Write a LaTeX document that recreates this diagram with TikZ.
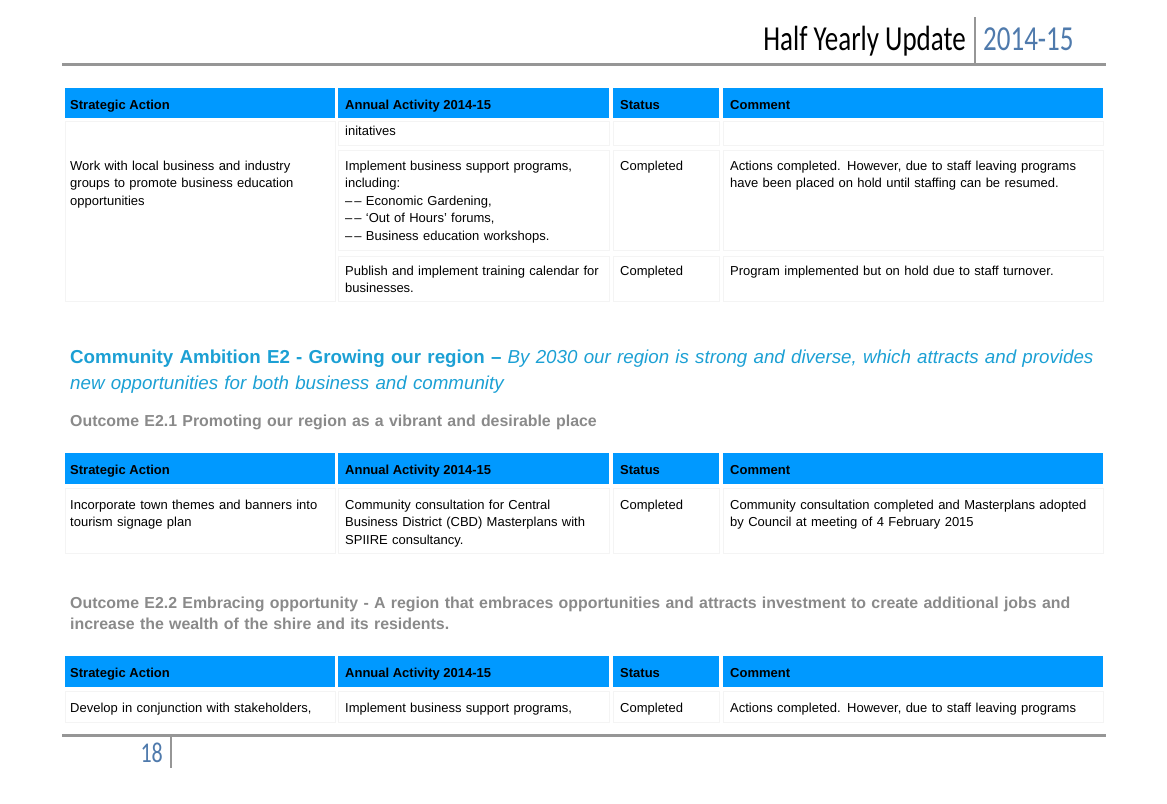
\documentclass[tikz,border=0pt]{standalone}
\usepackage{fontspec}
\usepackage{graphicx}
\setmainfont{Liberation Sans}
\newfontfamily\hdrfont{Carlito}
\definecolor{barblue}{RGB}{0,153,255}
\definecolor{headblue}{RGB}{28,160,212}
\definecolor{outgray}{RGB}{138,138,138}
\definecolor{rulegray}{RGB}{150,150,150}
\definecolor{yearblue}{RGB}{79,122,172}
\definecolor{cellgray}{RGB}{244,244,244}
\begin{document}
\begin{tikzpicture}[x=1pt,y=-1pt,
    headtxt/.style={anchor=base west,inner sep=0,font=\bfseries\fontsize{13}{16}\selectfont},
    bodytxt/.style={anchor=base west,inner sep=0,align=left,text width=#1,font=\fontsize{13}{17.5}\selectfont},
    bodytxt/.default=380pt,
    outtxt/.style={anchor=base west,inner sep=0,align=left,text width=1060pt,text=outgray,font=\bfseries\fontsize{15.9}{21}\selectfont},
    cellbox/.style={draw=cellgray,line width=0.8pt},
    pagerule/.style={draw=rulegray,line width=3pt}]
    \useasboundingbox (0,0) rectangle (1167,803);

    % page header
    \node[anchor=base east,inner sep=0,font=\hdrfont\fontsize{27}{30}\selectfont] (title) at (966,50) {\scalebox{1}[1.3]{Half Yearly Update}};
    \node[anchor=base west,inner sep=0,font=\hdrfont\fontsize{27}{30}\selectfont,text=yearblue] (year) at (983,50) {\scalebox{1}[1.3]{2014-15}};
    \draw[rulegray,line width=2pt] (975,17) -- (975,64);
    \draw[pagerule] (62,64) -- (1106,64);

    % first table (continued)
    \fill[barblue] (65,88) rectangle (335,118);
    \fill[barblue] (338,88) rectangle (609,118);
    \fill[barblue] (613,88) rectangle (719,118);
    \fill[barblue] (723,88) rectangle (1103,118);
    \node[headtxt] (ha1) at (70,109) {Strategic Action};
    \node[headtxt] (hb1) at (345,109) {Annual Activity 2014-15};
    \node[headtxt] (hc1) at (620,109) {Status};
    \node[headtxt] (hd1) at (730,109) {Comment};

    \draw[cellbox] (65,121) rectangle (335,301);
    \draw[cellbox] (338,121) rectangle (609,145);
    \draw[cellbox] (613,121) rectangle (719,145);
    \draw[cellbox] (723,121) rectangle (1103,145);
    \node[bodytxt=260pt] (cont) at (345,135) {initatives};

    \draw[cellbox] (338,150) rectangle (609,250);
    \draw[cellbox] (613,150) rectangle (719,250);
    \draw[cellbox] (723,150) rectangle (1103,250);
    \node[bodytxt=260pt] (sa1) at (70,170) {Work with local business and industry\\groups to promote business education\\opportunities};
    \node[bodytxt=260pt] (aa1) at (345,170) {Implement business support programs,\\including:\\\textendash\kern2pt\textendash{} Economic Gardening,\\\textendash\kern2pt\textendash{} ‘Out of Hours’ forums,\\\textendash\kern2pt\textendash{} Business education workshops.};
    \node[bodytxt=95pt] (st1) at (620,170) {Completed};
    \node[bodytxt] (cm1) at (730,170) {Actions completed. However, due to staff leaving programs\\have been placed on hold until staffing can be resumed.};

    \draw[cellbox] (338,256) rectangle (609,301);
    \draw[cellbox] (613,256) rectangle (719,301);
    \draw[cellbox] (723,256) rectangle (1103,301);
    \node[bodytxt=260pt] (aa2) at (345,275) {Publish and implement training calendar for\\businesses.};
    \node[bodytxt=95pt] (st2) at (620,275) {Completed};
    \node[bodytxt] (cm2) at (730,275) {Program implemented but on hold due to staff turnover.};

    % ambition heading
    \node[anchor=base west,inner sep=0,align=left,text width=1060pt,text=headblue,font=\fontsize{18.75}{26}\selectfont] (ambition) at (70,363.5)
        {\textbf{Community Ambition E2 - Growing our region –} \textit{By 2030 our region is strong and diverse, which attracts and provides}\\\textit{new opportunities for both business and community}};
    \node[outtxt] (out1) at (70,426) {Outcome E2.1 Promoting our region as a vibrant and desirable place};

    % second table
    \fill[barblue] (65,453) rectangle (335,484);
    \fill[barblue] (338,453) rectangle (609,484);
    \fill[barblue] (613,453) rectangle (719,484);
    \fill[barblue] (723,453) rectangle (1103,484);
    \node[headtxt] (ha2) at (70,474) {Strategic Action};
    \node[headtxt] (hb2) at (345,474) {Annual Activity 2014-15};
    \node[headtxt] (hc2) at (620,474) {Status};
    \node[headtxt] (hd2) at (730,474) {Comment};

    \draw[cellbox] (65,488) rectangle (335,553);
    \draw[cellbox] (338,488) rectangle (609,553);
    \draw[cellbox] (613,488) rectangle (719,553);
    \draw[cellbox] (723,488) rectangle (1103,553);
    \node[bodytxt=260pt] (sa3) at (70,509) {Incorporate town themes and banners into\\tourism signage plan};
    \node[bodytxt=260pt] (aa3) at (345,509) {Community consultation for Central\\Business District (CBD) Masterplans with\\SPIIRE consultancy.};
    \node[bodytxt=95pt] (st3) at (620,509) {Completed};
    \node[bodytxt] (cm3) at (730,509) {Community consultation completed and Masterplans adopted\\by Council at meeting of 4 February 2015};

    \node[outtxt] (out2) at (70,608)
        {Outcome E2.2 Embracing opportunity - A region that embraces opportunities and attracts investment to create additional jobs and\\increase the wealth of the shire and its residents.};

    % third table
    \fill[barblue] (65,656) rectangle (335,687);
    \fill[barblue] (338,656) rectangle (609,687);
    \fill[barblue] (613,656) rectangle (719,687);
    \fill[barblue] (723,656) rectangle (1103,687);
    \node[headtxt] (ha3) at (70,677) {Strategic Action};
    \node[headtxt] (hb3) at (345,677) {Annual Activity 2014-15};
    \node[headtxt] (hc3) at (620,677) {Status};
    \node[headtxt] (hd3) at (730,677) {Comment};

    \draw[cellbox] (65,691) rectangle (335,722);
    \draw[cellbox] (338,691) rectangle (609,722);
    \draw[cellbox] (613,691) rectangle (719,722);
    \draw[cellbox] (723,691) rectangle (1103,722);
    \node[bodytxt=260pt] (sa4) at (70,712) {Develop in conjunction with stakeholders,};
    \node[bodytxt=260pt] (aa4) at (345,712) {Implement business support programs,};
    \node[bodytxt=95pt] (st4) at (620,712) {Completed};
    \node[bodytxt] (cm4) at (730,712) {Actions completed. However, due to staff leaving programs};

    % page footer
    \draw[pagerule] (62,735) -- (1106,735);
    \draw[rulegray,line width=2pt] (171,735) -- (171,768);
    \node[anchor=base east,inner sep=0,text=yearblue,font=\hdrfont\fontsize{22}{24}\selectfont] (pageno) at (163,762) {\scalebox{1}[1.3]{18}};

\end{tikzpicture}
\end{document}
